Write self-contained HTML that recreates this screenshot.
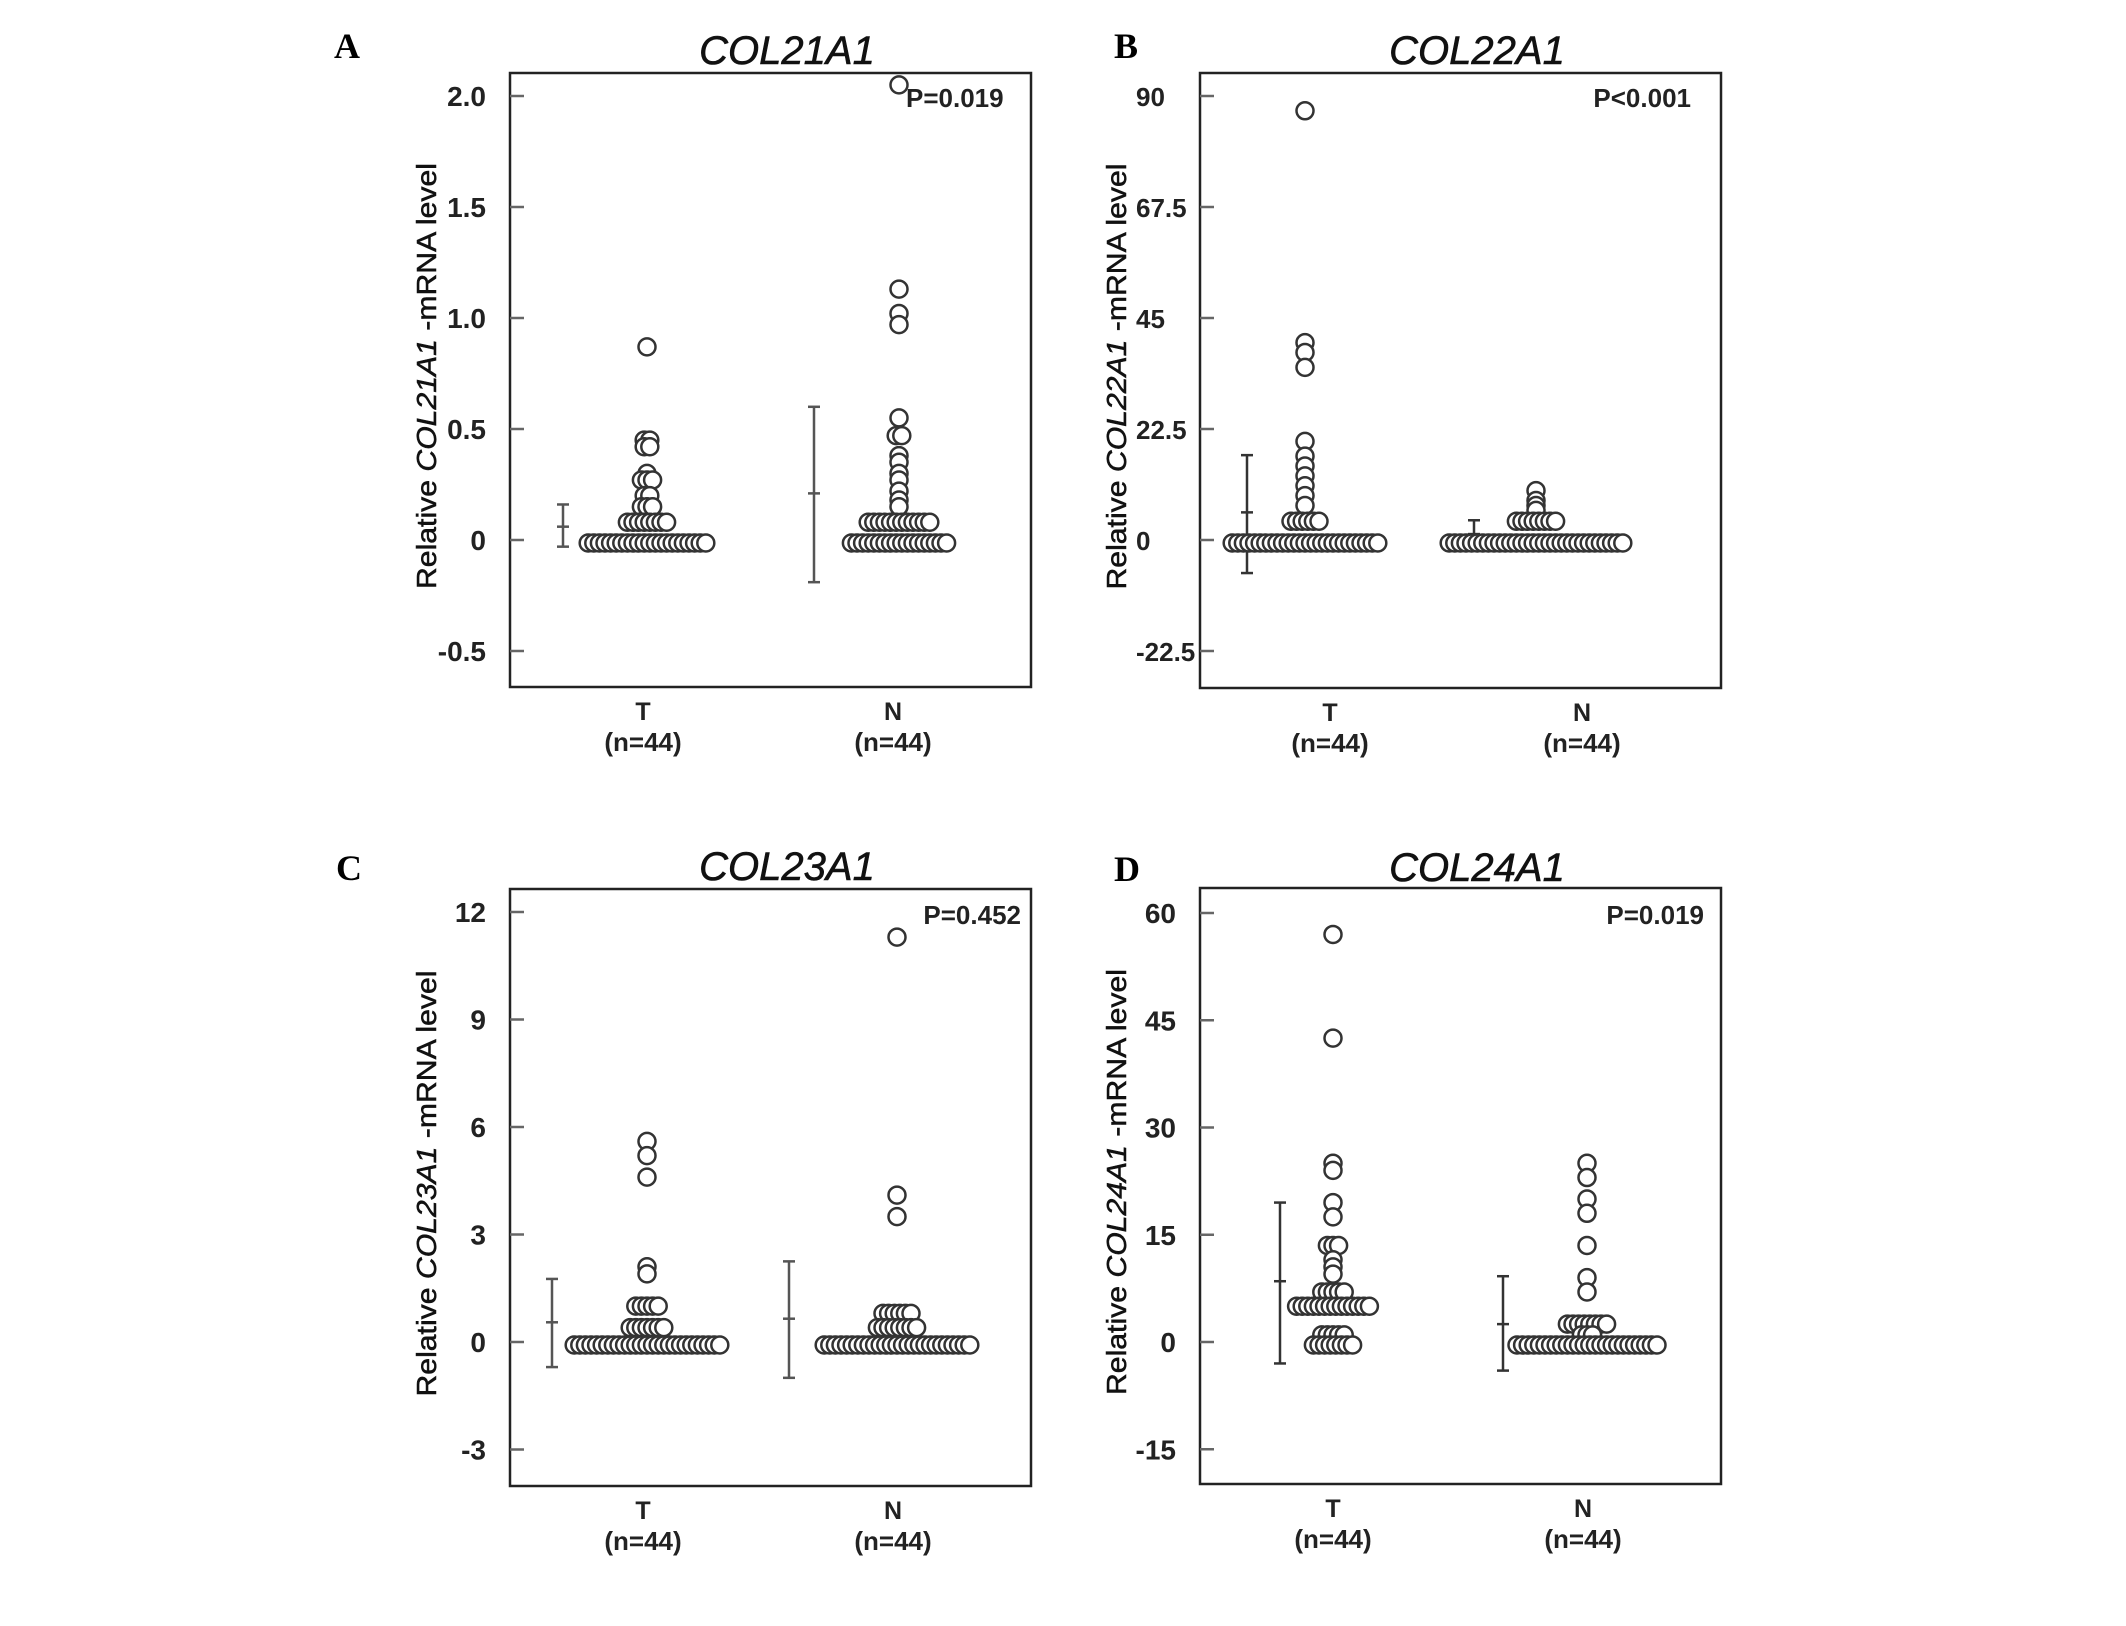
<!DOCTYPE html>
<html><head><meta charset="utf-8"><title>COL21A1-COL24A1 expression</title>
<style>
html,body{margin:0;padding:0;background:#fff;}
svg{display:block;}
</style></head>
<body>
<svg id="fig" width="2126" height="1626" viewBox="0 0 2126 1626" xmlns="http://www.w3.org/2000/svg"></svg>
<script>
// ---- Panel A: COL21A1 ----
const aTicks = [2.0, 1.5, 1.0, 0.5, 0, -0.5];
const aTickLabels = ["2.0", "1.5", "1.0", "0.5", "0", "-0.5"];
const aT = [0.87,0.45,0.45,0.42,0.42,0.30,0.27,0.27,0.27,0.20,0.20,0.15,0.15,0.15,0.08,0.08,0.08,0.08,0.08,0.08,0.08,0.08,0,0,0,0,0,0,0,0,0,0,0,0,0,0,0,0,0,0,0,0,0,0];
const aN = [2.05,1.13,1.02,0.97,0.55,0.47,0.47,0.38,0.35,0.30,0.27,0.22,0.18,0.15,0.08,0.08,0.08,0.08,0.08,0.08,0.08,0.08,0.08,0.08,0.08,0.08,0,0,0,0,0,0,0,0,0,0,0,0,0,0,0,0,0,0];
const aErrT = [-0.03, 0.06, 0.16];
const aErrN = [-0.19, 0.21, 0.60];

// ---- Panel B: COL22A1 ----
const bTicks = [90, 67.5, 45, 22.5, 0, -22.5];
const bTickLabels = ["90", "67.5", "45", "22.5", "0", "-22.5"];
const bT = [87,40,38,35,20,17,15,13,11,9,7,3.8,3.8,3.8,3.8,3.8,3.8,0,0,0,0,0,0,0,0,0,0,0,0,0,0,0,0,0,0,0,0,0,0,0,0,0,0,0];
const bN = [10,8,7,6,3.8,3.8,3.8,3.8,3.8,3.8,3.8,3.8,0,0,0,0,0,0,0,0,0,0,0,0,0,0,0,0,0,0,0,0,0,0,0,0,0,0,0,0,0,0,0,0];
const bErrT = [-6.7, 5.6, 17.2];
const bErrN = [-1.5, 1.2, 4.0];

// ---- Panel C: COL23A1 ----
const cTicks = [12, 9, 6, 3, 0, -3];
const cTickLabels = ["12", "9", "6", "3", "0", "-3"];
const cT = [5.6,5.2,4.6,2.1,1.9,1.0,1.0,1.0,1.0,1.0,0.4,0.4,0.4,0.4,0.4,0.4,0.4,0,0,0,0,0,0,0,0,0,0,0,0,0,0,0,0,0,0,0,0,0,0,0,0,0,0,0];
const cN = [11.3,4.1,3.5,0.8,0.8,0.8,0.8,0.8,0.8,0.4,0.4,0.4,0.4,0.4,0.4,0.4,0.4,0,0,0,0,0,0,0,0,0,0,0,0,0,0,0,0,0,0,0,0,0,0,0,0,0,0,0];
const cErrT = [-0.7, 0.55, 1.76];
const cErrN = [-1.0, 0.65, 2.25];

// ---- Panel D: COL24A1 ----
const dTicks = [60, 45, 30, 15, 0, -15];
const dTickLabels = ["60", "45", "30", "15", "0", "-15"];
const dT = [57,42.5,25,24,19.5,17.5,13.5,13.5,13.5,11.5,10.5,9.5,7,7,7,7,7,5,5,5,5,5,5,5,5,5,5,5,5,5,5,1,1,1,1,1,0,0,0,0,0,0,0,0];
const dN = [25,23,20,18,13.5,9,7,2.5,2.5,2.5,2.5,2.5,2.5,2.5,2.5,1,1,1,0,0,0,0,0,0,0,0,0,0,0,0,0,0,0,0,0,0,0,0,0,0,0,0,0,0];
const dErrT = [-3, 8.5, 19.5];
const dErrN = [-4.0, 2.5, 9.2];

const categories = ["T", "N"];
const nLabels = ["(n=44)", "(n=44)"];

const NS = "http://www.w3.org/2000/svg";
const svg = document.getElementById("fig");
function mk(tag, attrs, parent) {
  const e = document.createElementNS(NS, tag);
  for (const k in attrs) e.setAttribute(k, attrs[k]);
  (parent || svg).appendChild(e);
  return e;
}
const SANS = '"Liberation Sans", "DejaVu Sans", sans-serif';
const SERIF = '"Liberation Serif", serif';

function panel(cfg) {
  const g = mk("g", {});
  
  
  const L = cfg.left, Tp = cfg.top, B = cfg.bottom;
  const y = v => cfg.zeroY + (cfg.topY - cfg.zeroY) * v / cfg.ticks[0];

  const lt = mk("text", {x: cfg.letterX, y: cfg.letterY + 2, "font-family": SERIF, "font-weight": "bold", "font-size": 36, fill: "#000"}, g);
  lt.textContent = cfg.letter;
  
  

  const tt = mk("text", {x: L + 277, y: cfg.titleY, "text-anchor": "middle", "font-family": SANS, "font-style": "italic", "font-size": 40, fill: "#111", stroke: "#111", "stroke-width": 0.6}, g);
  tt.textContent = cfg.title;
  
  

  const box = mk("rect", {x: L, y: Tp, width: 521, height: B - Tp, fill: "none", stroke: "#222", "stroke-width": 2.5}, g);
  
  

  cfg.ticks.forEach((t, i) => {
    const ty = y(t);
    const tk = mk("line", {x1: L, x2: L + 14, y1: ty, y2: ty, stroke: "#666", "stroke-width": 2.5}, g);
    
    
    const tl = mk("text", {x: cfg.leftAlignTicks ? L - 64 : L - 24, y: ty + 10, "text-anchor": cfg.leftAlignTicks ? "start" : "end", "font-family": SANS, "font-weight": "bold", "font-size": cfg.leftAlignTicks ? 26 : 28, fill: "#222"}, g);
    tl.textContent = cfg.tickLabels[i];
    
    
  });

  const cy = (Tp + B) / 2 - 4;
  const yt = mk("text", {x: 0, y: 0, transform: `translate(${L - 84},${cy}) rotate(-90)`, "text-anchor": "middle", "dominant-baseline": "central", "font-family": SANS, "font-size": 28, fill: "#111", stroke: "#111", "stroke-width": 0.5, textLength: 426, lengthAdjust: "spacingAndGlyphs"}, g);
  
  
  const s1 = mk("tspan", {}, yt); s1.textContent = "Relative ";
  const s2 = mk("tspan", {"font-style": "italic"}, yt); s2.textContent = cfg.title;
  const s3 = mk("tspan", {}, yt); s3.textContent = " -mRNA  level";

  const pt = mk("text", {x: cfg.pX, y: cfg.pY, "text-anchor": cfg.pAnchor, "font-family": SANS, "font-weight": "bold", "font-size": 26, fill: "#222"}, g);
  pt.textContent = cfg.pText;
  
  

  const groups = [cfg.T, cfg.N];
  const errs = [cfg.errT, cfg.errN];
  groups.forEach((vals, gi) => {
    const cx = L + cfg.dotX[gi];
    const ex = L + cfg.errX[gi];
    const e = errs[gi];
    const eg = mk("g", {stroke: cfg.errColor, "stroke-width": 2.5}, g);
    
    
    mk("line", {x1: ex, x2: ex, y1: y(e[0]), y2: y(e[2])}, eg);
    mk("line", {x1: ex - 6, x2: ex + 6, y1: y(e[0]), y2: y(e[0])}, eg);
    mk("line", {x1: ex - 6, x2: ex + 6, y1: y(e[2]), y2: y(e[2])}, eg);
    mk("line", {x1: ex - 6, x2: ex + 6, y1: y(e[1]), y2: y(e[1])}, eg);
    const counts = {};
    vals.forEach(v => { counts[v] = (counts[v] || 0) + 1; });
    const seen = {};
    const dg = mk("g", {}, g);
    
    
    vals.forEach(v => {
      const n = counts[v];
      const i = seen[v] = (seen[v] === undefined ? 0 : seen[v] + 1);
      const px = cx + (i - (n - 1) / 2) * 5.6;
      const c = mk("circle", {cx: px, cy: y(v) + (v === 0 ? 3 : 0), r: 8.5, fill: "#fff", stroke: "#333", "stroke-width": 2.5}, dg);
      
      
    });
    const cl = mk("text", {x: L + cfg.catX[gi], y: B + 33, "text-anchor": "middle", "font-family": SANS, "font-weight": "bold", "font-size": 25, fill: "#222"}, g);
    cl.textContent = categories[gi];
    
    
    const nl = mk("text", {x: L + cfg.catX[gi], y: B + 64, "text-anchor": "middle", "font-family": SANS, "font-weight": "bold", "font-size": 26, fill: "#222"}, g);
    nl.textContent = nLabels[gi];
    
    
  });
}

panel({letter: "A", letterX: 334, letterY: 56, title: "COL21A1", titleY: 64, left: 510, top: 73, bottom: 687,
  topY: 96, zeroY: 540, ticks: aTicks, tickLabels: aTickLabels, T: aT, N: aN, errT: aErrT, errN: aErrN,
  dotX: [137, 389], errX: [53, 304], catX: [133, 383], errColor: "#555",
  pText: "P=0.019", pX: 906, pY: 107, pAnchor: "start"});
panel({letter: "B", letterX: 1114, letterY: 56, title: "COL22A1", titleY: 64, left: 1200, top: 73, bottom: 688,
  topY: 96, zeroY: 540, ticks: bTicks, tickLabels: bTickLabels, T: bT, N: bN, errT: bErrT, errN: bErrN,
  dotX: [105, 336], errX: [47, 274], catX: [130, 382], errColor: "#333", leftAlignTicks: true,
  pText: "P<0.001", pX: 1691, pY: 107, pAnchor: "end"});
panel({letter: "C", letterX: 336, letterY: 878, title: "COL23A1", titleY: 880, left: 510, top: 889, bottom: 1486,
  topY: 912, zeroY: 1342, ticks: cTicks, tickLabels: cTickLabels, T: cT, N: cN, errT: cErrT, errN: cErrN,
  dotX: [137, 387], errX: [42, 279], catX: [133, 383], errColor: "#555",
  pText: "P=0.452", pX: 1021, pY: 924, pAnchor: "end"});
panel({letter: "D", letterX: 1114, letterY: 879, title: "COL24A1", titleY: 881, left: 1200, top: 888, bottom: 1484,
  topY: 913, zeroY: 1342, ticks: dTicks, tickLabels: dTickLabels, T: dT, N: dN, errT: dErrT, errN: dErrN,
  dotX: [133, 387], errX: [80, 303], catX: [133, 383], errColor: "#333",
  pText: "P=0.019", pX: 1704, pY: 924, pAnchor: "end"});
</script>
</body></html>
